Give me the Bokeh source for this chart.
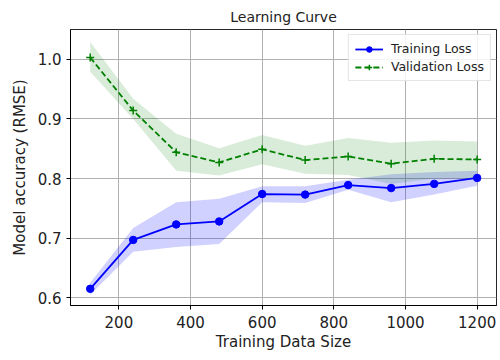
from bokeh.plotting import figure
from bokeh.models import Range1d, FixedTicker, Legend, LegendItem
from bokeh.embed import file_html
from bokeh.resources import INLINE

# Learning-curve data: training set sizes and RMSE mean / spread
train_sizes = [120, 240, 360, 480, 600, 720, 840, 960, 1080, 1200]

train_mean = [0.615, 0.697, 0.723, 0.728, 0.774, 0.773, 0.789, 0.784, 0.791, 0.801]
train_upper = [0.625, 0.717, 0.760, 0.766, 0.787, 0.787, 0.798, 0.807, 0.811, 0.813]
train_lower = [0.605, 0.677, 0.685, 0.690, 0.760, 0.759, 0.781, 0.760, 0.773, 0.788]

val_mean = [1.003, 0.914, 0.844, 0.827, 0.849, 0.831, 0.837, 0.825, 0.833, 0.832]
val_upper = [1.029, 0.934, 0.875, 0.851, 0.873, 0.855, 0.868, 0.860, 0.864, 0.862]
val_lower = [0.979, 0.900, 0.813, 0.805, 0.824, 0.808, 0.806, 0.791, 0.800, 0.800]

x_ticks = [200, 400, 600, 800, 1000, 1200]
y_ticks = [0.6, 0.7, 0.8, 0.9, 1.0]
y_tick_labels = ["0.6", "0.7", "0.8", "0.9", "1.0"]

FONT = "DejaVu Sans"
BLUE = "#0000ff"
GREEN = "#008000"

p = figure(
    width=500, height=360,
    output_backend="svg", toolbar_location=None,
    x_range=Range1d(65, 1254), y_range=Range1d(0.587, 1.05),
    min_border_left=70, min_border_right=4,
    min_border_top=29, min_border_bottom=55,
    background_fill_color="white", border_fill_color="white",
)

# Title
p.title.text = "Learning Curve"
p.title.align = "center"
p.title.text_font = FONT
p.title.text_font_size = "14px"
p.title.text_font_style = "normal"
p.title.text_color = "#222222"

# Frame
p.outline_line_color = "black"
p.outline_line_width = 1
p.outline_line_alpha = 0.85

# Grid
for g in (p.xgrid, p.ygrid):
    g.grid_line_color = "#b0b0b0"
    g.grid_line_width = 1
p.xgrid.ticker = FixedTicker(ticks=x_ticks)
p.ygrid.ticker = FixedTicker(ticks=y_ticks)

# Axes
p.xaxis.ticker = FixedTicker(ticks=x_ticks)
p.yaxis.ticker = FixedTicker(ticks=y_ticks)
p.yaxis.major_label_overrides = {t: s for t, s in zip(y_ticks, y_tick_labels)}
p.xaxis.axis_label = "Training Data Size"
p.yaxis.axis_label = "Model accuracy (RMSE)"
for ax in (p.xaxis[0], p.yaxis[0]):
    ax.axis_line_color = "black"
    ax.major_tick_line_color = "black"
    ax.major_tick_out = 4
    ax.major_tick_in = 0
    ax.minor_tick_line_color = None
    ax.major_label_text_font = FONT
    ax.major_label_text_font_size = "15px"
    ax.major_label_text_color = "#222222"
    ax.axis_label_text_font = FONT
    ax.axis_label_text_font_size = "15px"
    ax.axis_label_text_font_style = "normal"
    ax.axis_label_text_color = "#222222"
p.xaxis.major_label_standoff = 6
p.xaxis.axis_label_standoff = 2
p.yaxis.major_label_standoff = 5
p.yaxis.axis_label_standoff = 6

# Spread bands
p.varea(x=train_sizes, y1=train_lower, y2=train_upper,
        fill_color=BLUE, fill_alpha=0.18)
p.varea(x=train_sizes, y1=val_lower, y2=val_upper,
        fill_color=GREEN, fill_alpha=0.15)

# Mean curves
tr_line = p.line(train_sizes, train_mean, line_color=BLUE, line_width=1.8)
tr_pts = p.scatter(train_sizes, train_mean, marker="circle", size=7.5,
                   fill_color=BLUE, line_color=BLUE)
va_line = p.line(train_sizes, val_mean, line_color=GREEN, line_width=1.8,
                 line_dash="6 3")
va_pts = p.scatter(train_sizes, val_mean, marker="cross", size=8,
                   line_color=GREEN, line_width=1.5)

legend = Legend(
    items=[
        LegendItem(label="Training Loss", renderers=[tr_line, tr_pts]),
        LegendItem(label="Validation Loss", renderers=[va_line, va_pts]),
    ],
    location="top_right",
    label_text_font=FONT, label_text_font_size="12.5px",
    label_text_color="#222222",
    border_line_color="#cccccc", border_line_width=1,
    background_fill_alpha=0.85,
    glyph_width=28, glyph_height=14,
    label_height=14, spacing=3, padding=6, margin=5,
    label_standoff=8,
)
p.add_layout(legend)

open("out.html", "w").write(file_html(p, INLINE))
